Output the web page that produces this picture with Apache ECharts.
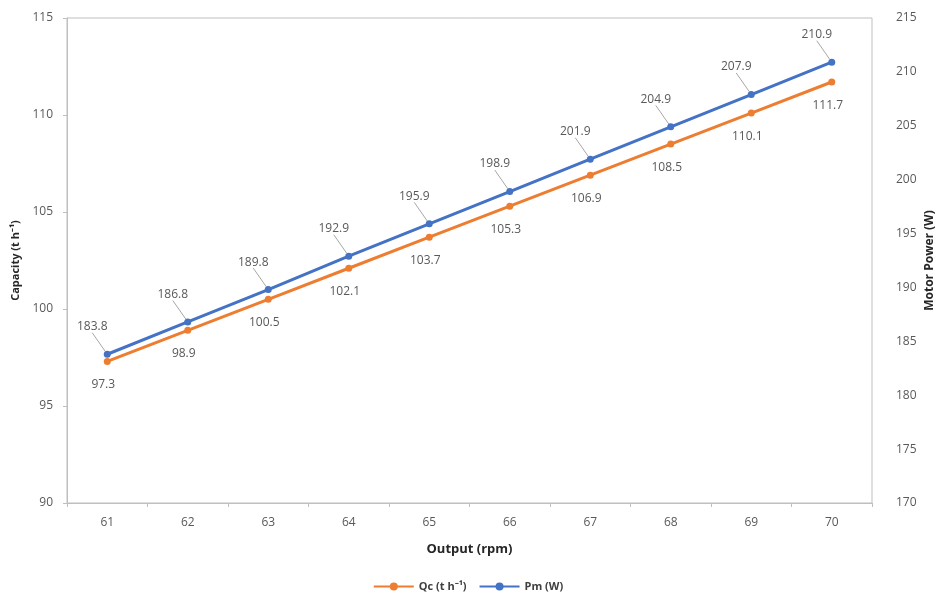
<!DOCTYPE html>
<html>
<head>
<meta charset="utf-8">
<script src="https://cdn.jsdelivr.net/npm/echarts@6/dist/echarts.min.js"></script>
<style>
html, body { margin: 0; padding: 0; background: #fff; }
#chart { width: 936px; height: 599px; }
</style>
</head>
<body>
<div id="chart"></div>
<script>
var categories = ['61', '62', '63', '64', '65', '66', '67', '68', '69', '70'];
var qcValues = [97.3, 98.9, 100.5, 102.1, 103.7, 105.3, 106.9, 108.5, 110.1, 111.7];
var pmValues = [183.8, 186.8, 189.8, 192.9, 195.9, 198.9, 201.9, 204.9, 207.9, 210.9];

var chart = echarts.init(document.getElementById('chart'));
var font = 'Open Sans';
var labelColor = '#595959';

var option = {
	animation: false,
	textStyle: { fontFamily: font },
	grid: {
		left: 67, right: 64, top: 18, bottom: 96,
		containLabel: false, outerBoundsMode: 'none',
		show: true, borderColor: '#bfbfbf', borderWidth: 1
	},
	legend: {
		bottom: 2,
		left: 'center',
		itemWidth: 40,
		itemHeight: 10,
		itemGap: 12,
		textStyle: { fontSize: 11, fontWeight: 'bold', color: '#404040', fontFamily: font },
		data: ['Qc (t h⁻¹)', 'Pm (W)']
	},
	xAxis: {
		type: 'category',
		data: categories,
		name: 'Output (rpm)',
		nameLocation: 'middle',
		nameGap: 40,
		nameMoveOverlap: false,
		nameTextStyle: { fontSize: 13, fontWeight: 'bold', color: '#262626' },
		axisLine: { lineStyle: { color: '#bfbfbf' } },
		axisTick: { show: true, alignWithLabel: false, length: 4, lineStyle: { color: '#bfbfbf' } },
		axisLabel: { color: labelColor, fontSize: 12, margin: 14 }
	},
	yAxis: [{
		type: 'value',
		min: 90,
		max: 115,
		interval: 5,
		name: 'Capacity (t h⁻¹)',
		nameLocation: 'middle',
		nameGap: 46,
		nameMoveOverlap: false,
		nameTextStyle: { fontSize: 11, fontWeight: 'bold', color: '#262626' },
		axisLine: { show: true, lineStyle: { color: '#bfbfbf' } },
		axisTick: { show: true, length: 4, lineStyle: { color: '#bfbfbf' } },
		axisLabel: { color: labelColor, fontSize: 12, margin: 14 },
		splitLine: { show: false }
	}, {
		type: 'value',
		min: 170,
		max: 215,
		interval: 5,
		name: 'Motor Power (W)',
		nameLocation: 'middle',
		nameGap: 52,
		nameRotate: 90,
		nameMoveOverlap: false,
		nameTextStyle: { fontSize: 12, fontWeight: 'bold', color: '#262626' },
		axisLine: { show: false },
		axisTick: { show: false },
		axisLabel: { color: labelColor, fontSize: 12, margin: 24 },
		splitLine: { show: false }
	}],
	series: [{
		name: 'Qc (t h⁻¹)',
		type: 'line',
		yAxisIndex: 0,
		data: qcValues,
		symbol: 'circle',
		symbolSize: 7,
		color: '#ED7D31',
		lineStyle: { width: 3, color: '#ED7D31' },
		label: {
			show: true,
			position: 'bottom',
			distance: 14,
			offset: [-4, 0],
			color: labelColor,
			fontSize: 12
		}
	}, {
		name: 'Pm (W)',
		type: 'line',
		yAxisIndex: 1,
		data: pmValues,
		symbol: 'circle',
		symbolSize: 7,
		color: '#4472C4',
		lineStyle: { width: 3, color: '#4472C4' },
		label: {
			show: true,
			position: 'top',
			distance: 4,
			color: labelColor,
			fontSize: 12
		},
		labelLayout: { dx: -15, dy: -14 },
		labelLine: { show: true, lineStyle: { color: '#a6a6a6', width: 1 } }
	}]
};
chart.setOption(option);
</script>
</body>
</html>
